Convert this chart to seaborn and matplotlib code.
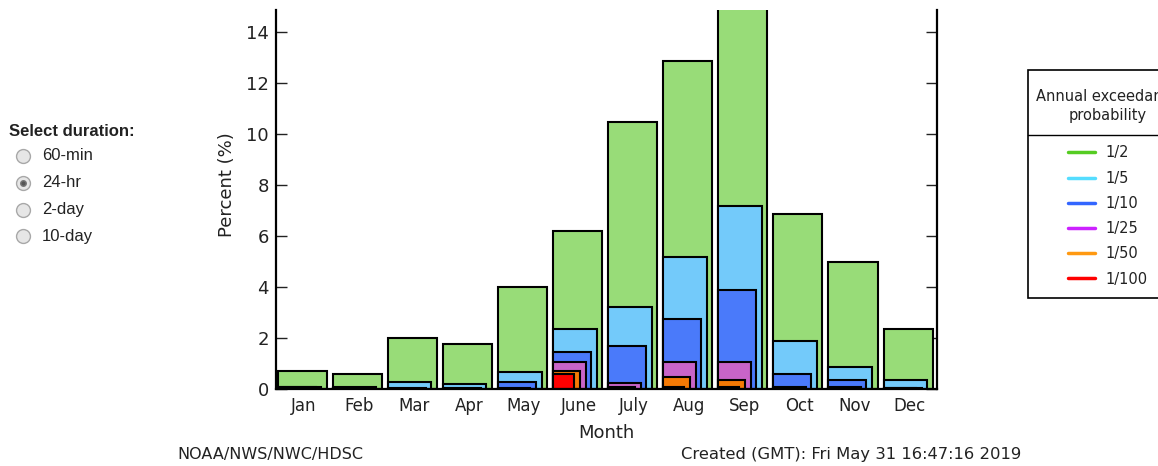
import matplotlib
matplotlib.use('Agg')
import matplotlib.pyplot as plt
import seaborn as sns
from matplotlib.lines import Line2D

# monthly share (%) of annual-maximum 24-hr events exceeding each AEP level
months = ['Jan', 'Feb', 'Mar', 'Apr', 'May', 'June', 'July', 'Aug', 'Sep', 'Oct', 'Nov', 'Dec']
aep_labels = ['1/2', '1/5', '1/10', '1/25', '1/50', '1/100']
p_2 = [0.69, 0.59, 1.99, 1.76, 4.00, 6.18, 10.48, 12.87, 15.00, 6.84, 4.98, 2.37]
p_5 = [0.08, 0.07, 0.26, 0.20, 0.68, 2.36, 3.23, 5.17, 7.18, 1.88, 0.85, 0.35]
p_10 = [0.06, 0.05, 0.03, 0.03, 0.26, 1.46, 1.69, 2.75, 3.87, 0.59, 0.35, 0.04]
p_25 = [0.04, 0.04, 0.01, 0.01, 0.03, 1.07, 0.25, 1.07, 1.07, 0.06, 0.06, 0.02]
p_50 = [0.03, 0.02, 0.00, 0.00, 0.01, 0.72, 0.09, 0.46, 0.35, 0.03, 0.02, 0.01]
p_100 = [0.02, 0.01, 0.00, 0.00, 0.00, 0.59, 0.04, 0.09, 0.08, 0.01, 0.01, 0.00]
durations = ['60-min', '24-hr', '2-day', '10-day']
selected = '24-hr'
legend_title = 'Annual exceedance\nprobability'

series = [p_2, p_5, p_10, p_25, p_50, p_100]
bar_colors = ['#98dc78', '#73cafa', '#4a7afa', '#c864c8', '#f57a05', '#ff0000']
line_colors = ['#55cc22', '#55ddff', '#3366ff', '#cc22ff', '#ff9911', '#ff0000']
widths = [0.89, 0.79, 0.69, 0.59, 0.48, 0.38]

sns.set_theme(style='white')
plt.rcParams['font.family'] = ['DejaVu Sans']

W, H = 1158, 466
fig = plt.figure(figsize=(W / 100, H / 100), dpi=100)
ax = fig.add_axes([276 / W, 1 - 389 / H, 661 / W, 379 / H])

for vals, w, c in zip(series, widths, bar_colors):
    n0 = len(ax.patches)
    sns.barplot(x=months, y=vals, order=months, width=w, color=c, saturation=1,
                edgecolor='black', linewidth=1.5, errorbar=None, ax=ax)
    # nested bars share the left edge
    for p in ax.patches[n0:]:
        p.set_x(p.get_x() + w / 2 - 0.47)

ax.set_xlim(-0.5, 11.5)
ax.set_ylim(0, 14.85)
ax.set_yticks([0, 2, 4, 6, 8, 10, 12, 14])
ax.tick_params(axis='y', direction='in', length=8, width=1, right=True, left=True,
               labelsize=13, pad=5, colors='#222222')
ax.tick_params(axis='x', direction='in', length=7, width=1, bottom=True,
               labelsize=12, pad=6, colors='#222222')
for s in ['left', 'right', 'bottom']:
    ax.spines[s].set_color('black')
    ax.spines[s].set_linewidth(1.6)
ax.spines['top'].set_visible(False)
ax.set_xlabel('Month', fontsize=13, color='#222222', labelpad=6)
ax.set_ylabel('Percent (%)', fontsize=13, color='#222222')
ax.yaxis.set_label_coords(-0.06, 0.54)

# footer
fig.text(177 / W, 1 - 455 / H, 'NOAA/NWS/NWC/HDSC', fontsize=11.5, va='center', color='#222222')
fig.text(681 / W, 1 - 454 / H, 'Created (GMT): Fri May 31 16:47:16 2019', fontsize=11.75,
         va='center', color='#222222')

# duration selector
fig.text(9 / W, 1 - 131 / H, 'Select duration:', fontsize=12, fontweight='bold',
         family='Liberation Sans', va='center', color='#222222')
for i, d in enumerate(durations):
    y = 1 - (156 + i * 26.8) / H
    fig.add_artist(Line2D([22.5 / W], [y], marker='o', markersize=10, markerfacecolor='#e6e6e6',
                          markeredgecolor='#a8a8a8', markeredgewidth=1, transform=fig.transFigure))
    if d == selected:
        fig.add_artist(Line2D([22.5 / W], [y], marker='o', markersize=4, markerfacecolor='#555555',
                              markeredgecolor='#777777', transform=fig.transFigure))
    fig.text(42 / W, y, d, fontsize=12, family='Liberation Sans', va='center', color='#222222')

# legend (title kept as a sizing placeholder, drawn again below)
handles = [Line2D([0], [0], color=c, lw=2.5) for c in line_colors]
leg = fig.legend(handles, aep_labels, title=legend_title, loc='upper left',
                 bbox_to_anchor=(1028 / W, 1 - 70 / H), frameon=True, fancybox=False,
                 edgecolor='black', framealpha=1, alignment='center', fontsize=10.5,
                 title_fontsize=10.0, handlelength=1.9, handletextpad=0.7, labelspacing=0.7,
                 borderpad=0.8, borderaxespad=0)
leg.get_frame().set_linewidth(1.2)
for t in leg.get_texts():
    t.set_color('#222222')
leg.get_title().set_alpha(0)

fig.canvas.draw()
e0 = leg.get_texts()[0].get_window_extent()
leg._legend_box.sep += (153 - (H - (e0.y0 + e0.y1) / 2)) * 72 / 100
fig.canvas.draw()

fb = leg.get_frame().get_window_extent()
fig.text((fb.x0 + fb.x1) / 2 / W, 1 - 106 / H, legend_title, ha='center', va='center',
         multialignment='center', fontsize=10.5, linespacing=1.35, color='#222222', zorder=10)
fig.add_artist(Line2D([fb.x0 / W, fb.x1 / W], [1 - 135 / H, 1 - 135 / H],
                      color='black', lw=1, transform=fig.transFigure, zorder=10))

fig.savefig('out.png', dpi=100)
